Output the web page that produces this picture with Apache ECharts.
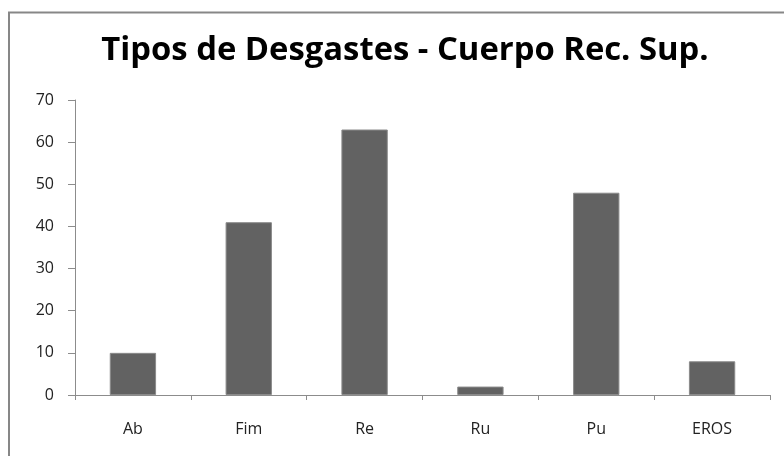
<!DOCTYPE html>
<html>
<head>
<meta charset="utf-8">
<script src="https://cdn.jsdelivr.net/npm/echarts@6/dist/echarts.min.js"></script>
<style>
  html, body { margin: 0; padding: 0; background: #fff; }
  #chart { width: 784px; height: 456px; }
</style>
</head>
<body>
<div id="chart"></div>
<script>
const categories = ['Ab', 'Fim', 'Re', 'Ru', 'Pu', 'EROS'];
const values = [10, 41, 63, 2, 48, 8];
const titleText = 'Tipos de Desgastes - Cuerpo Rec. Sup.';

const chart = echarts.init(document.getElementById('chart'));

chart.setOption({
  backgroundColor: '#fff',
  animation: false,
  graphic: [
    {
      type: 'polyline',
      shape: { points: [[9, 470], [9, 12.5], [800, 12.5]] },
      style: { stroke: '#878787', lineWidth: 2, fill: null },
    },
  ],
  title: {
    text: titleText,
    left: 400,
    textAlign: 'center',
    top: 29,
    textStyle: {
      fontFamily: 'Open Sans',
      fontWeight: 'bold',
      fontSize: 32.8,
      color: '#000',
    },
  },
  grid: {
    left: 75,
    right: 14,
    top: 100,
    bottom: 61,
    containLabel: false,
  },
  xAxis: {
    type: 'category',
    data: categories,
    axisLine: { lineStyle: { color: '#8c8c8c', width: 1 } },
    axisTick: { show: true, length: 5, inside: false, lineStyle: { color: '#8c8c8c' } },
    axisLabel: {
      color: '#222',
      fontFamily: 'Open Sans',
      fontSize: 16,
      margin: 26,
    },
  },
  yAxis: {
    type: 'value',
    min: 0,
    max: 70,
    interval: 10,
    axisLine: { show: true, lineStyle: { color: '#8c8c8c', width: 1 } },
    axisTick: { show: true, length: 7, lineStyle: { color: '#8c8c8c' } },
    splitLine: { show: false },
    axisLabel: {
      color: '#222',
      fontFamily: 'Open Sans',
      fontSize: 16,
      margin: 21,
    },
  },
  series: [
    {
      type: 'bar',
      data: values,
      barCategoryGap: '60%',
      itemStyle: {
        color: '#626262',
        borderColor: '#8a8a8a',
        borderWidth: 1,
      },
    },
  ],
});
</script>
</body>
</html>
